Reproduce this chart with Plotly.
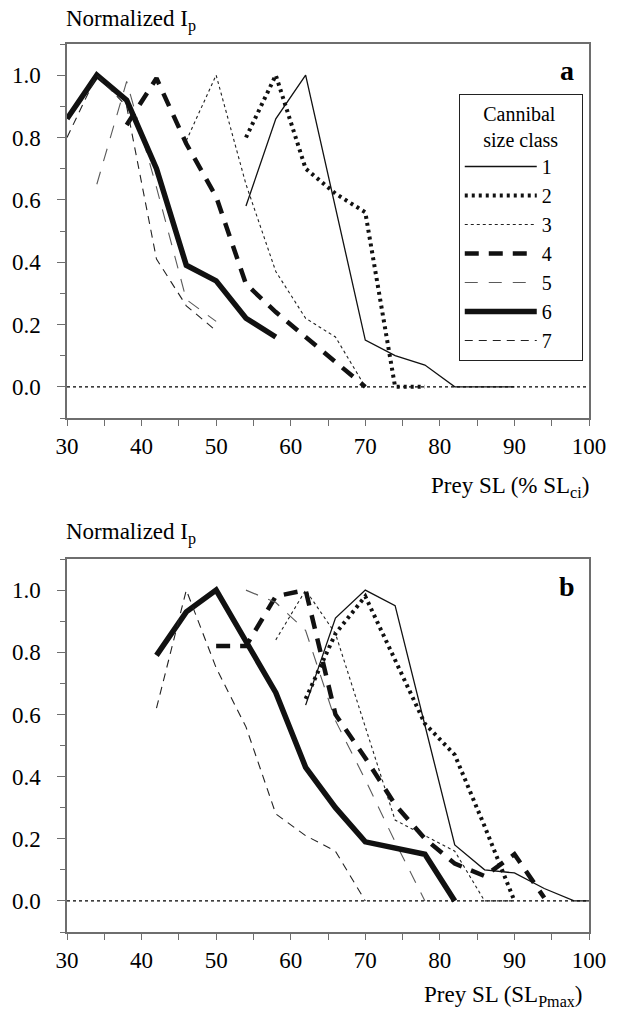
import plotly.graph_objects as go

# ---------------- data ----------------
CLASSES = ["1", "2", "3", "4", "5", "6", "7"]

# Panel a: Prey SL (% SLci)
A_X1 = [54, 58, 62, 70, 74, 78, 82, 90]
A_Y1 = [0.58, 0.86, 1.00, 0.15, 0.10, 0.07, 0.00, 0.00]
A_X2 = [54, 58, 62, 66, 70, 74, 78]
A_Y2 = [0.80, 1.00, 0.70, 0.62, 0.56, 0.00, 0.00]
A_X3 = [46, 50, 54, 58, 62, 66, 70]
A_Y3 = [0.79, 1.00, 0.65, 0.37, 0.22, 0.16, 0.00]
A_X4 = [38, 42, 46, 50, 54, 58, 62, 66, 70]
A_Y4 = [0.84, 0.99, 0.78, 0.61, 0.33, 0.24, 0.16, 0.08, 0.00]
A_X5 = [34, 38, 42, 46, 50]
A_Y5 = [0.65, 0.98, 0.64, 0.28, 0.21]
A_X6 = [30, 34, 38, 42, 46, 50, 54, 58]
A_Y6 = [0.86, 1.00, 0.92, 0.70, 0.39, 0.34, 0.22, 0.16]
A_X7 = [30, 34, 38, 42, 46, 50]
A_Y7 = [0.80, 1.00, 0.90, 0.41, 0.26, 0.18]

# Panel b: Prey SL (SLPmax)
B_X1 = [62, 66, 70, 74, 82, 86, 90, 94, 98, 100]
B_Y1 = [0.63, 0.91, 1.00, 0.95, 0.18, 0.10, 0.09, 0.04, 0.00, 0.00]
B_X2 = [62, 66, 70, 78, 82, 86, 90]
B_Y2 = [0.65, 0.86, 0.98, 0.57, 0.47, 0.24, 0.00]
B_X3 = [58, 62, 66, 74, 82, 86, 90]
B_Y3 = [0.84, 1.00, 0.86, 0.26, 0.16, 0.00, 0.00]
B_X4 = [50, 54, 58, 62, 66, 70, 74, 78, 82, 86, 90, 94]
B_Y4 = [0.82, 0.82, 0.98, 1.00, 0.60, 0.46, 0.31, 0.20, 0.12, 0.08, 0.15, 0.01]
B_X5 = [54, 58, 62, 66, 70, 74, 78]
B_Y5 = [1.00, 0.96, 0.87, 0.58, 0.39, 0.19, 0.00]
B_X6 = [42, 46, 50, 58, 62, 66, 70, 74, 78, 82]
B_Y6 = [0.79, 0.93, 1.00, 0.67, 0.43, 0.30, 0.19, 0.17, 0.15, 0.00]
B_X7 = [42, 46, 50, 54, 58, 62, 66, 70]
B_Y7 = [0.62, 1.00, 0.75, 0.56, 0.28, 0.21, 0.16, 0.00]

Y_TICKS = [0.0, 0.2, 0.4, 0.6, 0.8, 1.0]
X_TICKS = [30, 40, 50, 60, 70, 80, 90, 100]

PANEL_A = [(A_X1, A_Y1), (A_X2, A_Y2), (A_X3, A_Y3), (A_X4, A_Y4),
           (A_X5, A_Y5), (A_X6, A_Y6), (A_X7, A_Y7)]
PANEL_B = [(B_X1, B_Y1), (B_X2, B_Y2), (B_X3, B_Y3), (B_X4, B_Y4),
           (B_X5, B_Y5), (B_X6, B_Y6), (B_X7, B_Y7)]

# ---------------- styles ----------------
STYLES = {
    "1": dict(width=1.3, dash="solid", color="#111111"),
    "2": dict(width=4, dash="3px,4px", color="#111111"),
    "3": dict(width=1.1, dash="3px,3px", color="#222222"),
    "4": dict(width=4.5, dash="14px,10px", color="#111111"),
    "5": dict(width=1.1, dash="13px,11px", color="#5a5a5a"),
    "6": dict(width=5.5, dash="solid", color="#111111"),
    "7": dict(width=1.1, dash="8px,6px", color="#222222"),
}

FONT = "Liberation Serif"
AXCOL = "#6e6e6e"
PAD = "\u00a0" * 5   # trailing space inside the legend box

fig = go.Figure()

for name, (xs, ys) in zip(CLASSES, PANEL_A):
    fig.add_trace(go.Scatter(x=xs, y=ys, mode="lines", name=name + PAD,
                             line=STYLES[name], xaxis="x", yaxis="y",
                             showlegend=True))
for name, (xs, ys) in zip(CLASSES, PANEL_B):
    fig.add_trace(go.Scatter(x=xs, y=ys, mode="lines", name=name,
                             line=STYLES[name], xaxis="x2", yaxis="y2",
                             showlegend=False))

def xaxis(anchor):
    return dict(
        anchor=anchor, domain=[0, 1], range=[30, 100],
        tickvals=X_TICKS, ticks="outside", ticklen=6, tickwidth=1.2,
        tickcolor=AXCOL, showline=True, linecolor=AXCOL, linewidth=1.5,
        mirror=True, showgrid=False, zeroline=False,
        minor=dict(dtick=5, tick0=0, ticks="outside", ticklen=6,
                   tickwidth=1.2, tickcolor=AXCOL, showgrid=False),
        tickfont=dict(family=FONT, size=23, color="black"),
        ticklabelstandoff=1,
    )

def yaxis(anchor, domain):
    return dict(
        anchor=anchor, domain=domain, range=[-0.1, 1.1],
        tickvals=Y_TICKS, tickformat=".1f", ticks="outside", ticklen=8,
        tickwidth=1.2, tickcolor=AXCOL, showline=True, linecolor=AXCOL,
        linewidth=1.5, mirror=True, showgrid=False, zeroline=False,
        minor=dict(dtick=0.1, tick0=0, ticks="outside", ticklen=5,
                   tickwidth=1.2, tickcolor=AXCOL, showgrid=False),
        tickfont=dict(family=FONT, size=23, color="black"),
        ticklabelstandoff=12,
    )

# zero reference lines (dotted)
for yr, xr in (("y", "x"), ("y2", "x2")):
    fig.add_shape(type="line", xref=f"{xr} domain", yref=yr,
                  x0=0, x1=1, y0=0, y1=0,
                  line=dict(color="black", width=1.3, dash="dot"), layer="below")

ann_font = dict(family=FONT, size=23, color="black")
annotations = [
    dict(text="Normalized I<sub>p</sub>", xref="paper", yref="paper",
         x=0.0, y=1.027, xanchor="left", yanchor="middle", showarrow=False,
         xshift=-3, font=ann_font),
    dict(text="Normalized I<sub>p</sub>", xref="paper", yref="paper",
         x=0.0, y=0.449, xanchor="left", yanchor="middle", showarrow=False,
         xshift=-3, font=ann_font),
    dict(text="Prey SL (% SL<sub>ci</sub>)", xref="paper", yref="paper",
         x=0.995, y=0.501, xanchor="right", yanchor="middle", showarrow=False,
         xshift=5, font=ann_font),
    dict(text="Prey SL (SL<sub>Pmax</sub>)", xref="paper", yref="paper",
         x=0.985, y=-0.072, xanchor="right", yanchor="middle", showarrow=False,
         xshift=4, font=ann_font),
    dict(text="<b>a</b>", xref="paper", yref="paper", x=0.958, y=0.970,
         xanchor="center", yanchor="middle", showarrow=False,
         font=dict(family=FONT, size=28, color="black")),
    dict(text="<b>b</b>", xref="paper", yref="paper", x=0.958, y=0.389,
         xanchor="center", yanchor="middle", showarrow=False,
         font=dict(family=FONT, size=28, color="black")),
]

fig.update_layout(
    width=618, height=1011,
    margin=dict(l=66, r=23, t=44, b=79),
    paper_bgcolor="white", plot_bgcolor="white",
    font=dict(family=FONT, size=21, color="black"),
    xaxis=xaxis("y"), yaxis=yaxis("x", [0.5788, 1.0]),
    xaxis2=xaxis("y2"), yaxis2=yaxis("x2", [0.0, 0.42]),
    annotations=annotations,
    legend=dict(
        x=0.7505, y=0.9437, xanchor="left", yanchor="top",
        bordercolor="#222222", borderwidth=1, bgcolor="white",
        font=dict(family=FONT, size=20, color="black"),
        title=dict(text="Cannibal<br>size class", side="top center",
                   font=dict(family=FONT, size=20, color="black")),
        itemwidth=72, tracegroupgap=0,
    ),
)

# remove the default 8px page margin so the figure fills the window exactly
fig.write_html("out.html",
               config={"displayModeBar": False},
               post_script="document.body.style.margin='0';document.documentElement.style.overflow='hidden';")
